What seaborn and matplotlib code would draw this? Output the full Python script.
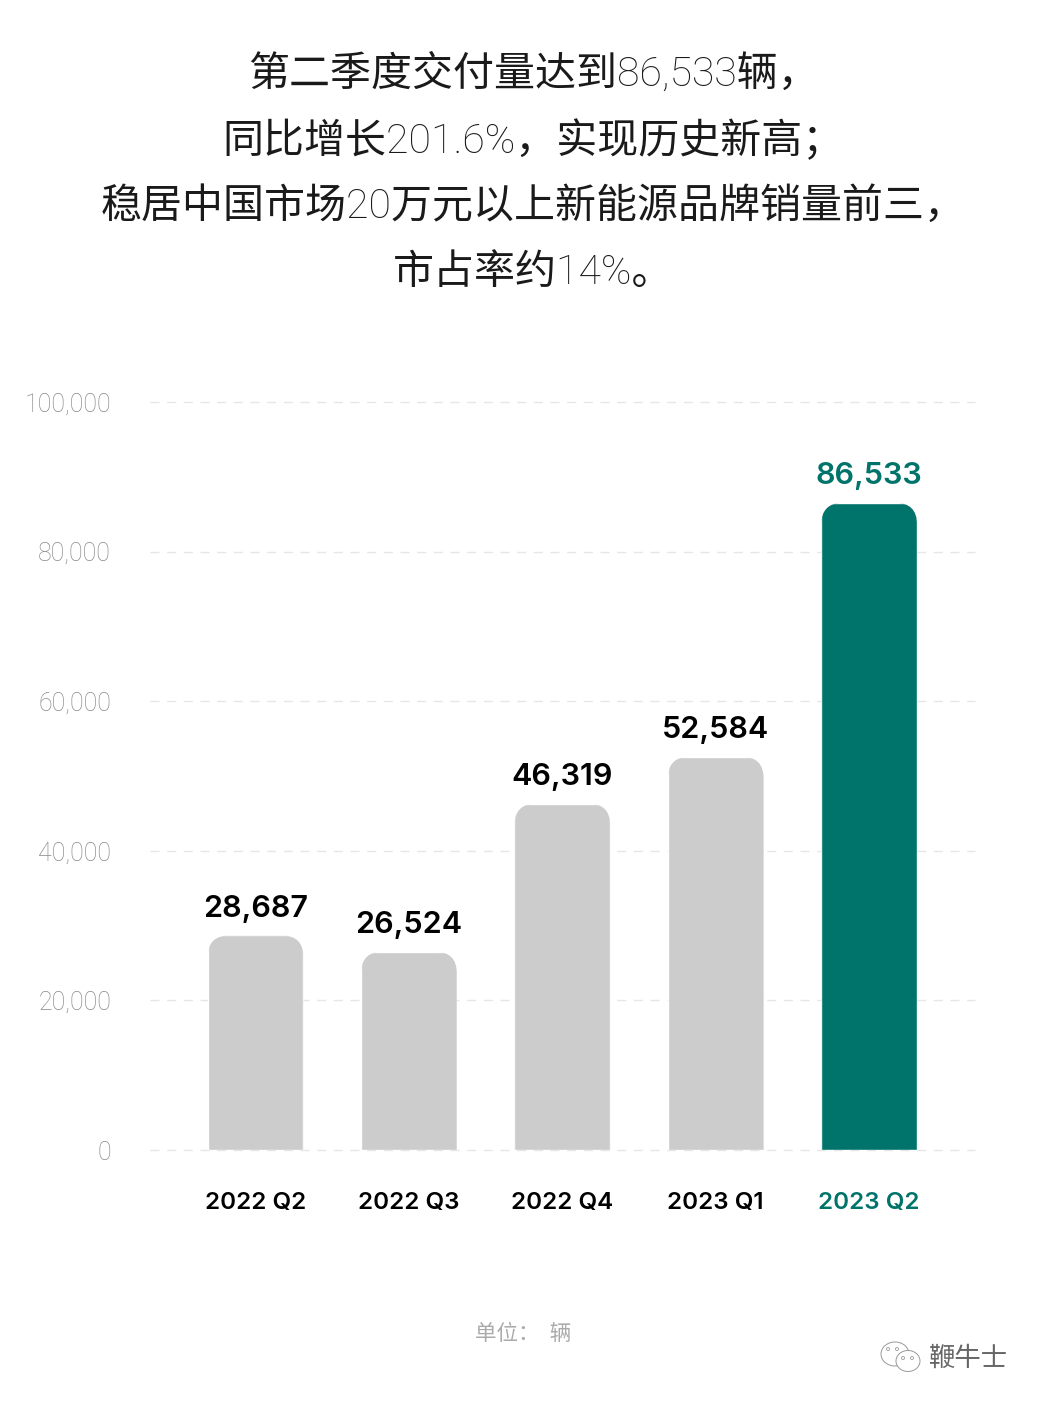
"""
plot.py
-------
Quarterly deliveries bar chart, rounded bar tops, saved as out.png
"""

import matplotlib
matplotlib.use("Agg")
import matplotlib.pyplot as plt
from matplotlib.patches import Ellipse, FancyBboxPatch
from matplotlib.ticker import FuncFormatter
from matplotlib.transforms import IdentityTransform
import pandas as pd
import seaborn as sns

# ── Data ───────────────────────────────────────────────────────────────────
QUARTERS = ["2022 Q2", "2022 Q3", "2022 Q4", "2023 Q1", "2023 Q2"]
DELIVERIES = [28687, 26524, 46319, 52584, 86533]
Y_TICKS = [0, 20000, 40000, 60000, 80000, 100000]
TITLE_LINES = [
    "第二季度交付量达到86,533辆，",
    "同比增长201.6%，实现历史新高；",
    "稳居中国市场20万元以上新能源品牌销量前三，",
    "市占率约14%。",
]
UNIT_TEXT = "单位：  辆"
WATERMARK = "鞭牛士"

# ── Config ─────────────────────────────────────────────────────────────────
W, H = 1040, 1402
DPI = 100
GREY = "#cccccc"
TEAL = "#00736a"
THIN = ["Roboto", "Noto Sans CJK SC", "DejaVu Sans"]
BOLD = ["Inter", "Noto Sans CJK SC", "DejaVu Sans"]
RADIUS = 22  # px


def px(x, y):
    """pixel position (top-left origin) -> figure fraction"""
    return x / W, 1 - y / H


sns.set_theme(style="white")
plt.rcParams["font.family"] = THIN

fig = plt.figure(figsize=(W / DPI, H / DPI), dpi=DPI, facecolor="white")
ax = fig.add_axes([150 / W, 1 - 1150 / H, 825 / W, 748 / H])

df = pd.DataFrame({"quarter": QUARTERS, "deliveries": DELIVERIES})
sns.barplot(data=df, x="quarter", y="deliveries", hue="quarter",
            palette=[GREY] * 4 + [TEAL], width=0.625, legend=False,
            saturation=1, ax=ax, zorder=3)

ax.set_xlim(-0.688, 4.69)
ax.set_ylim(0, 100000)
ax.set_xlabel("")
ax.set_ylabel("")
ax.set_yticks(Y_TICKS)
ax.yaxis.set_major_formatter(FuncFormatter(lambda v, _: f"{int(v):,}"))
ax.grid(axis="y", color="#e6e6e6", lw=1, ls=(0, (6.5, 5.5)), zorder=0)
ax.set_axisbelow(True)
sns.despine(ax=ax, left=True, bottom=True, top=True, right=True)
for line in ax.get_ygridlines():
    line.set_clip_on(False)

ax.tick_params(axis="y", length=0, pad=28, labelsize=18, labelcolor="#888888")
ax.tick_params(axis="x", length=0, pad=30)
for lab in ax.get_yticklabels():
    lab.set_fontweight("light")
for i, lab in enumerate(ax.get_xticklabels()):
    lab.set_family(BOLD)
    lab.set_fontsize(17.4)
    lab.set_fontweight("semibold")
    lab.set_color(TEAL if i == 4 else "black")

# round the top corners and put the value above each bar
fig.canvas.draw()
for bar, value in zip(ax.patches, DELIVERIES):
    (x0, y0), (x1, y1) = ax.transData.transform(
        [(bar.get_x(), 0), (bar.get_x() + bar.get_width(), value)])
    clip = FancyBboxPatch((x0, y0 - 40), x1 - x0, y1 - y0 + 40,
                          boxstyle=f"round,pad=0,rounding_size={RADIUS}",
                          transform=IdentityTransform())
    bar.set_clip_path(clip)
    ax.annotate(f"{value:,}", (bar.get_x() + bar.get_width() / 2, value),
                xytext=(0, 9), textcoords="offset points", ha="center", va="bottom",
                family=BOLD, fontsize=22, fontweight="semibold",
                color=TEAL if value == DELIVERIES[-1] else "black")

# ── Title / footer ─────────────────────────────────────────────────────────
for y, line in zip([74, 140, 206, 273], TITLE_LINES):
    fig.text(*px(533, y), line, ha="center", va="center", fontsize=29.5,
             fontweight="light", color="#1a1a1a")

fig.text(*px(523, 1335), UNIT_TEXT, ha="center", va="center", fontsize=15.5,
         fontweight="light", color="#aaaaaa")
fig.text(*px(969, 1359), WATERMARK, ha="center", va="center", fontsize=19,
         fontweight="light", color="#666666")

# wechat style mark next to the watermark
for cx, cy, w, h in [(895, 1354, 28, 24), (908, 1361, 24, 21)]:
    fig.add_artist(Ellipse(px(cx, cy), w / W, h / H, transform=fig.transFigure,
                           fc="white", ec="#999999", lw=0.7))
for cx, cy in [(888, 1349), (897, 1349), (903, 1358), (912, 1358)]:
    fig.add_artist(Ellipse(px(cx, cy), 3 / W, 3 / H, transform=fig.transFigure,
                           fc="white", ec="#999999", lw=0.6))

fig.savefig("out.png", dpi=DPI)
plt.close(fig)
